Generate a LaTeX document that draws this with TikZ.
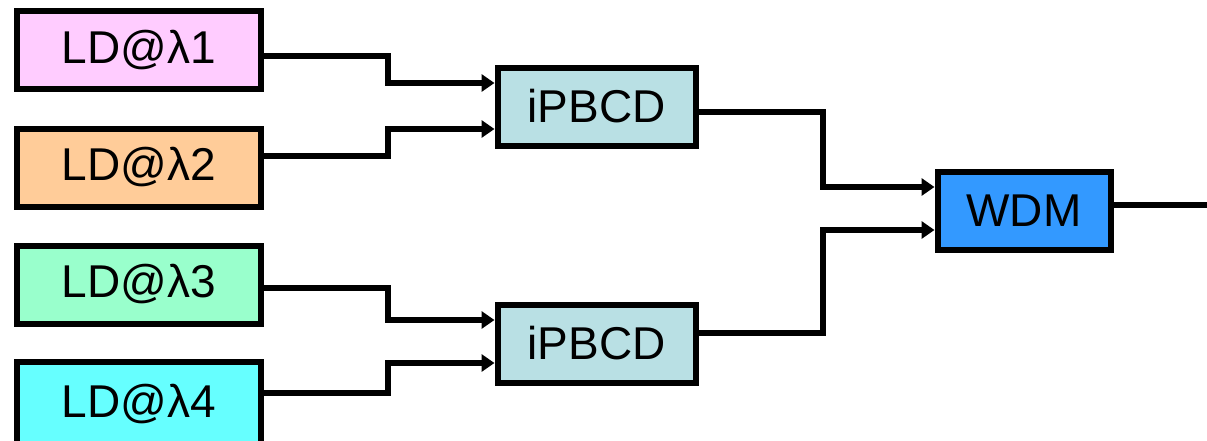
\documentclass[tikz,border=0pt]{standalone}
\usepackage{fontspec}
\setmainfont{Liberation Sans}
\usetikzlibrary{arrows.meta}
\definecolor{ldA}{HTML}{FFCCFF}
\definecolor{ldB}{HTML}{FFCC99}
\definecolor{ldC}{HTML}{99FFCC}
\definecolor{ldD}{HTML}{66FFFF}
\definecolor{pbc}{HTML}{B9E0E4}
\definecolor{wdm}{HTML}{3399FF}
\tikzset{
  box/.style={draw=black, line width=6pt, rectangle, minimum height=78pt, inner sep=0pt, font=\fontsize{46}{50}\selectfont},
  ldbox/.style={box, minimum width=244pt},
  pbbox/.style={box, fill=pbc, minimum width=198pt},
  wdmbox/.style={box, fill=wdm, minimum width=173pt},
  conn/.style={line width=6pt, line join=miter, -{Triangle[length=13pt,width=17pt]}},
  outline/.style={line width=6pt}
}
\begin{document}
\begin{tikzpicture}[x=1pt,y=-1pt]
\useasboundingbox (0,0) rectangle (1207,440);
\node[ldbox, fill=ldA] (ld1) at (139,50) {LD@λ1};
\node[ldbox, fill=ldB] (ld2) at (139,167.5) {LD@λ2};
\node[ldbox, fill=ldC] (ld3) at (139,284.5) {LD@λ3};
\node[ldbox, fill=ldD, minimum height=84pt] (ld4) at (139,404) {\raisebox{3pt}{LD@λ4}};
\node[pbbox] (p1) at (596.5,106.5) {iPBCD};
\node[pbbox] (p2) at (596.5,343.5) {iPBCD};
\node[wdmbox] (w) at (1024,211) {WDM};
\coordinate (out) at (1207,205);
\draw[conn] ([yshift=-5.5pt]ld1.east) -| (388,70) |- ([yshift=23.5pt]p1.west);
\draw[conn] ([yshift=11.5pt]ld2.east) -| (388,140) |- ([yshift=-22.5pt]p1.west);
\draw[conn] ([yshift=-3.5pt]ld3.east) -| (388,305) |- ([yshift=23.5pt]p2.west);
\draw[conn] ([yshift=11pt]ld4.east) -| (388,380) |- ([yshift=-19.5pt]p2.west);
\draw[conn] ([yshift=-5.5pt]p1.east) -| (823,150) |- ([yshift=24pt]w.west);
\draw[conn] ([yshift=10.5pt]p2.east) -| (823,280) |- ([yshift=-19pt]w.west);
\draw[outline] ([yshift=6pt]w.east) -- (out);
\end{tikzpicture}
\end{document}
